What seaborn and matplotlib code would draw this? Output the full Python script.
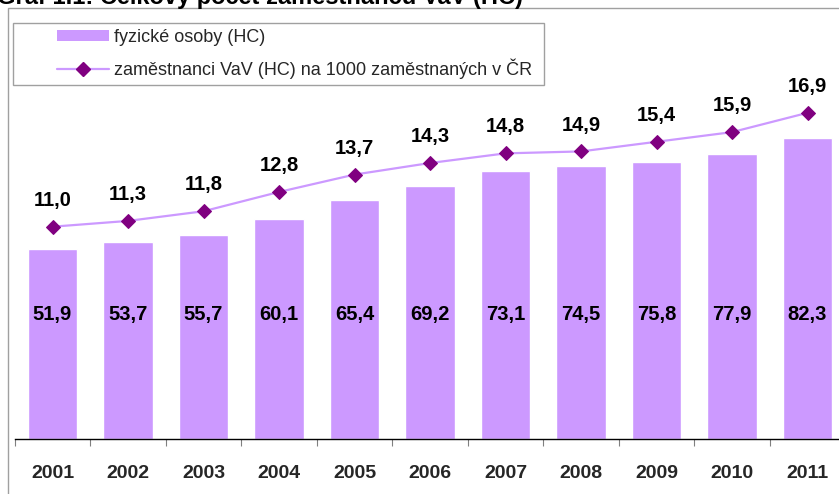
import matplotlib
matplotlib.use("Agg")
import matplotlib.pyplot as plt
import seaborn as sns
import pandas as pd
import numpy as np
from matplotlib.patches import Patch, Rectangle
from matplotlib.lines import Line2D

years = ["2001", "2002", "2003", "2004", "2005", "2006", "2007", "2008", "2009", "2010", "2011"]
headcount = [51.9, 53.7, 55.7, 60.1, 65.4, 69.2, 73.1, 74.5, 75.8, 77.9, 82.3]
per_1000 = [11.0, 11.3, 11.8, 12.8, 13.7, 14.3, 14.8, 14.9, 15.4, 15.9, 16.9]

bar_label = "fyzické osoby (HC)"
line_label = "zaměstnanci VaV (HC) na 1000 zaměstnaných v ČR"
title = "Graf 1.1: Celkový počet zaměstnanců VaV (HC)"

df = pd.DataFrame({"rok": years, "hc": headcount, "na1000": per_1000})

sns.set_theme(style="white")
plt.rcParams["font.family"] = ["Liberation Sans", "DejaVu Sans"]

W, H = 839, 494
fig = plt.figure(figsize=(W / 100, H / 100), dpi=100)

# plot area in pixels: x 14.75..845.25 (runs past the right edge), y 8..439
x0, x1 = 14.75, 845.25
ytop, ybot = 8, 439
ax = fig.add_axes([x0 / W, 1 - ybot / H, (x1 - x0) / W, (ybot - ytop) / H])

sns.barplot(data=df, x="rok", y="hc", color="#CC99FF", saturation=1,
            width=0.65, ax=ax, zorder=2)
ax.set_xlim(-0.5, len(years) - 0.5)
ax.set_ylim(0, (ybot - ytop) / 3.66)

for i, v in enumerate(headcount):
    ax.text(i, 33.9, f"{v:.1f}".replace(".", ","), ha="center", va="center",
            fontsize=14.5, fontweight="bold", color="black", zorder=4)

ax2 = ax.twinx()
pos = np.arange(len(years))
sns.lineplot(x=pos, y=per_1000, ax=ax2, color="#CC99FF", lw=1.6,
             marker="D", markersize=7, markerfacecolor="#800080",
             markeredgecolor="#800080", zorder=3)
ax2.set_ylim(0, (ybot - ytop) / 19.3)
for i, v in enumerate(per_1000):
    ax2.annotate(f"{v:.1f}".replace(".", ","), (i, v), xytext=(0, 19),
                 textcoords="offset points", ha="center", va="center",
                 fontsize=14.5, fontweight="bold", color="black")

for a in (ax, ax2):
    for s in ("top", "right", "left"):
        a.spines[s].set_visible(False)
    a.set_yticks([])
    a.set_ylabel("")
ax2.spines["bottom"].set_visible(False)
ax.spines["bottom"].set_color("black")
ax.spines["bottom"].set_linewidth(1)

ax.set_xlabel("")
ax.tick_params(axis="x", which="major", length=0, pad=18.5, labelsize=14)
for t in ax.get_xticklabels():
    t.set_fontweight("bold")
ax.set_xticks(np.arange(-0.5, len(years), 1), minor=True)
ax.tick_params(axis="x", which="minor", length=5, width=0.8, color="#808080",
               direction="out", bottom=True)

# outer chart-area border (partly cut off)
fig.add_artist(Rectangle((7.5 / W, -0.2), 1.2, 1.2 - 8 / H, transform=fig.transFigure,
                         fill=False, edgecolor="#A0A0A0", lw=1))

# title, mostly above the picture as in the reference
fig.text(-3 / W, 1 - 4 / H, title, ha="left", va="baseline", fontsize=17,
         fontweight="bold", color="black")

# legend box
fig.add_artist(Rectangle((12.5 / W, 1 - 85 / H), (544 - 12.5) / W, 62 / H,
                         transform=fig.transFigure, facecolor="white",
                         edgecolor="#A0A0A0", lw=1, zorder=5))
handles = [Patch(facecolor="#CC99FF", edgecolor="none"),
           Line2D([], [], color="#CC99FF", lw=1.6, marker="D", markersize=7,
                  markerfacecolor="#800080", markeredgecolor="#800080")]
leg = fig.legend(handles, [bar_label, line_label], loc="center left",
                 bbox_to_anchor=(57 / W, 1 - 54 / H), fontsize=13,
                 frameon=False, handlelength=2.9, handleheight=0.55,
                 handletextpad=0.25, borderpad=0, labelspacing=0.7,
                 borderaxespad=0)
leg.set_zorder(6)

fig.savefig("out.png", dpi=100)
